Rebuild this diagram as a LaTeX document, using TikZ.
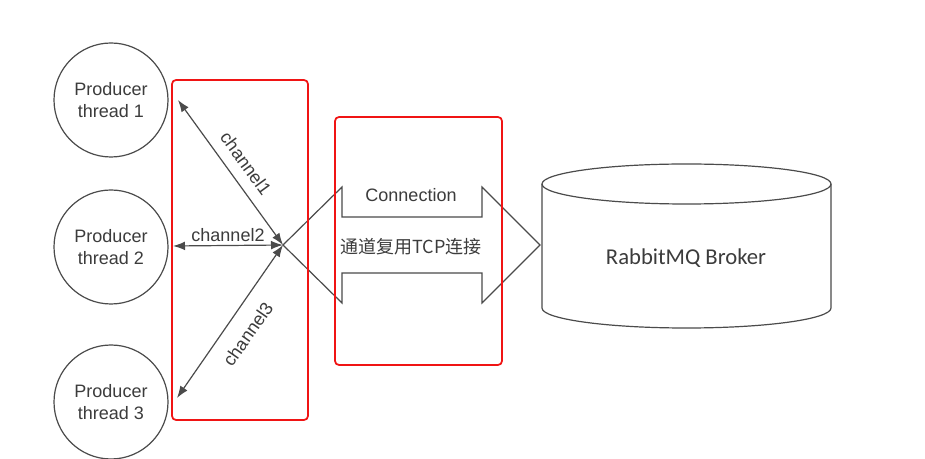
\documentclass[tikz,border=0pt]{standalone}
\usepackage{fontspec}
\setmainfont{Liberation Sans}
\newfontfamily\cjkfont{Noto Sans CJK SC}
\newfontfamily\brokerfont{Carlito}
\usetikzlibrary{arrows.meta,positioning}
\definecolor{linegray}{RGB}{75,75,75}
\definecolor{textgray}{RGB}{60,60,60}
\definecolor{markred}{RGB}{240,20,20}

\begin{document}
\begin{tikzpicture}[x=0.75pt,y=-0.75pt,
    producer/.style={draw=linegray, line width=0.9pt, circle, minimum size=85.5pt, inner sep=0pt, align=center, text=textgray, font=\fontsize{13.5}{17}\selectfont},
    chan/.style={draw=linegray, line width=0.9pt, {Latex[length=9pt,width=6.5pt]}-{Latex[length=9pt,width=6.5pt]}},
    chanlabel/.style={text=textgray, font=\fontsize{13.5}{16}\selectfont, inner sep=2.5pt},
    outline/.style={draw=linegray, line width=0.9pt},
    redbox/.style={draw=markred, line width=1.3pt, rounded corners=3pt}]

    \useasboundingbox[fill=white] (0,0) rectangle (925,459);

    % producer threads
    \node (prod1) [producer] at (111,100) {Producer\\thread 1};
    \node (prod2) [producer] at (111,247) {Producer\\thread 2};
    \node (prod3) [producer] at (111,402) {Producer\\thread 3};

    % the TCP connection (double arrow)
    \coordinate (tip) at (283,245);
    \draw[outline] (tip) -- (342,187) -- (342,217) -- (482,217) -- (482,187) -- (540,245)
        -- (482,303) -- (482,273) -- (342,273) -- (342,303) -- cycle;
    \node (connlabel) [text=textgray, font=\fontsize{13.5}{16}\selectfont] at (411,195) {Connection};
    \node (conn) [text=textgray, font=\cjkfont\fontsize{13.5}{16}\selectfont] at (411,247) {通道复用TCP连接};

    % broker
    \draw[outline] (542,184) -- (542,308) arc[start angle=180, end angle=0, x radius=144.5, y radius=20] -- (831,184);
    \draw[outline] (686.5,184) ellipse[x radius=144.5, y radius=20];
    \node (broker) [text=textgray, font=\brokerfont\fontsize{17}{20}\selectfont] at (686,258) {RabbitMQ Broker};

    % channels
    \coordinate (c1) at (178,100);
    \coordinate (c2) at (173,246);
    \coordinate (c3) at (177,398);
    \draw[chan] (c1) -- (tip) node[chanlabel, pos=0.51, rotate=-54, anchor=south, inner sep=8pt] {channel1};
    \draw[chan] (c2) -- (tip) node[chanlabel, pos=0.5, above] {channel2};
    \draw[chan] (c3) -- (tip) node[chanlabel, pos=0.5, rotate=55, anchor=north, inner sep=11pt] {channel3};

    % red marks
    \draw[redbox] (172,80) rectangle (308,420);
    \draw[redbox] (335,117) rectangle (502,365);
\end{tikzpicture}
\end{document}
